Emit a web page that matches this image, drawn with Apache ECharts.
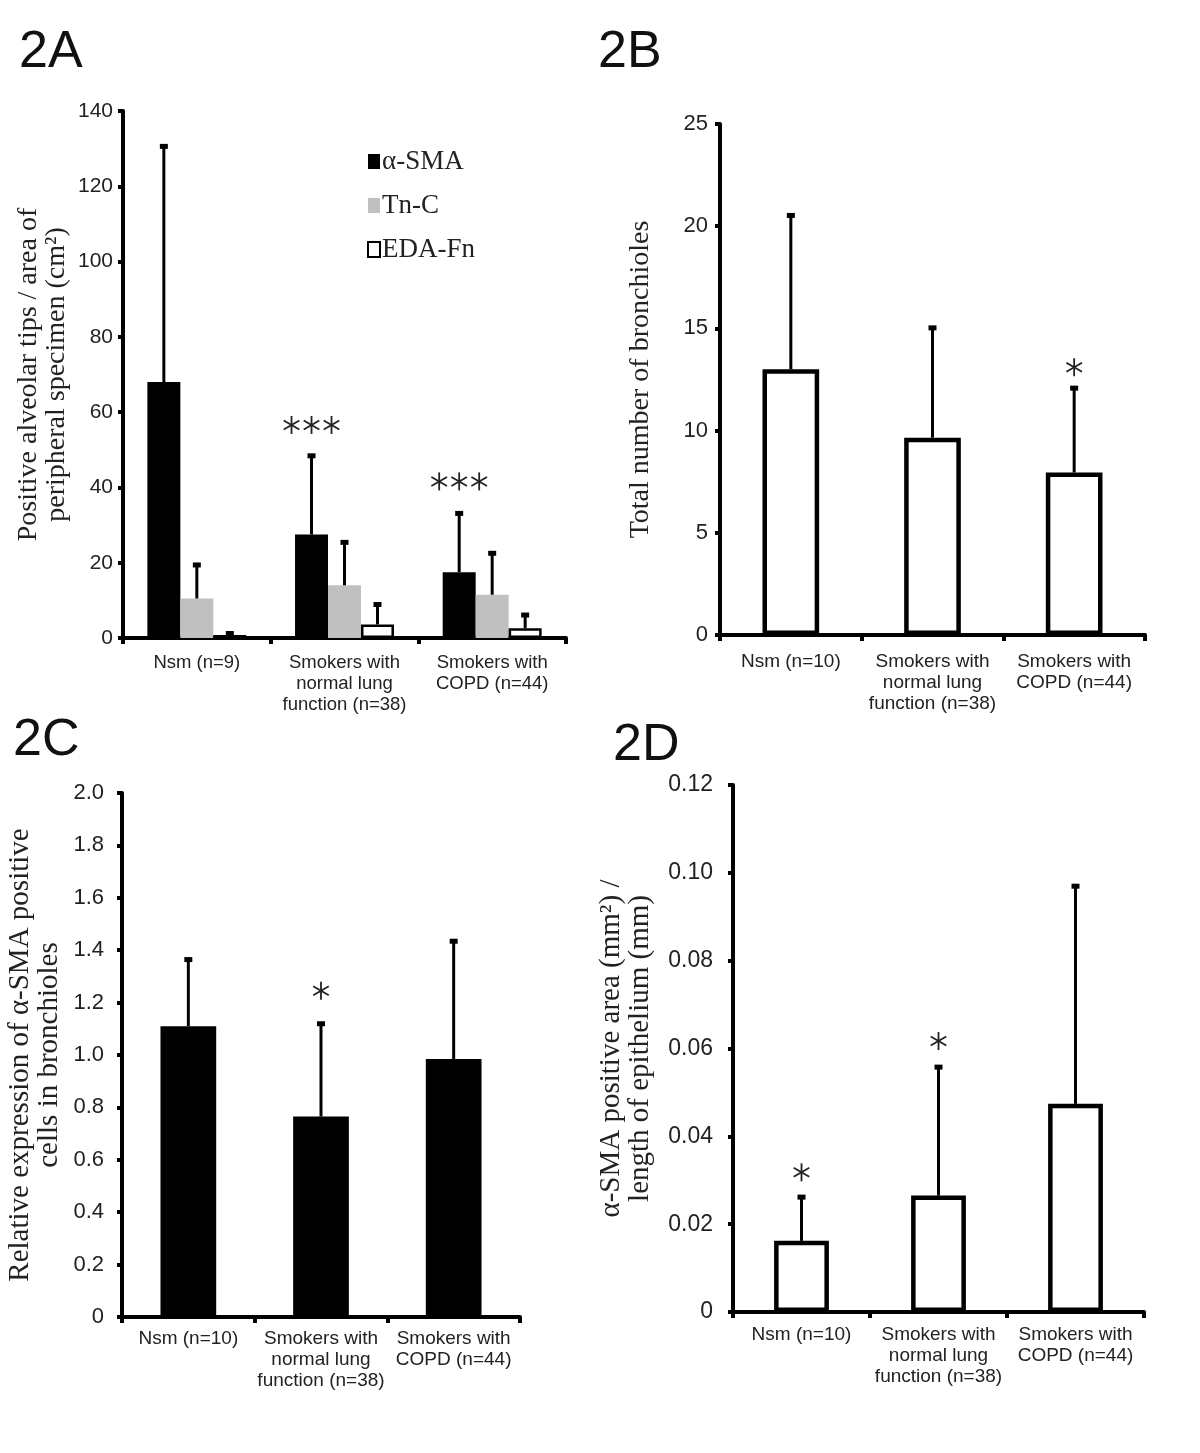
<!DOCTYPE html>
<html>
<head>
<meta charset="utf-8">
<title>Figure 2</title>
<script src="https://cdn.jsdelivr.net/npm/echarts@6.0.0/dist/echarts.min.js"></script>
<style>
  body{margin:0;background:#fff;}
  #fig{width:1200px;height:1453px;}
</style>
</head>
<body>
<div id="fig"></div>
<script>
// categories
const catsA = ['Nsm (n=9)', 'Smokers with\nnormal lung\nfunction (n=38)', 'Smokers with\nCOPD (n=44)'];
const catsBCD = ['Nsm (n=10)', 'Smokers with\nnormal lung\nfunction (n=38)', 'Smokers with\nCOPD (n=44)'];

// 2A  positive alveolar tips
const smaA = [68, 27.5, 17.5];
const smaSdA = [63, 21.3, 16];
const tncA = [10.5, 14, 11.5];
const tncSdA = [9.3, 11.8, 11.4];
const edaA = [0.8, 3.6, 2.6];
const edaSdA = [0.8, 5.7, 3.9];
const starPosA = [null, 56.6, 41.6];
const starCntA = [0, 3, 3];

// 2B  total number of bronchioles
const numB = [13.0, 9.65, 7.95];
const sdB = [7.6, 5.45, 4.2];
const starPosB = [null, null, 13.1];

// 2C  relative expression of a-SMA
const relC = [1.11, 0.765, 0.985];
const sdC = [0.26, 0.36, 0.455];
const starPosC = [null, 1.245, null];

// 2D  a-SMA positive area / length of epithelium
const areaD = [0.0162, 0.0265, 0.0474];
const sdD = [0.0103, 0.0296, 0.0499];
const starPosD = [0.0318, 0.0617, null];

// tick settings
const yMaxA = 140, yStepA = 20;
const yMaxB = 25, yStepB = 5;
const yMaxC = 2.0, yStepC = 0.2;
const yMaxD = 0.12, yStepD = 0.02;

const sans = 'Liberation Sans, Arial, sans-serif';
const serif = 'Liberation Serif, Times New Roman, serif';

function errData(vals, sds){
  return vals.map((v,i)=>[i, v, sds[i]]);
}

// error bar (upper only) with small cap, offset inside the category band
function errBar(offset){
  return function(params, api){
    let ci = api.value(0), v = api.value(1), sd = api.value(2);
    let band = api.size([1, 0])[0];
    let x = api.coord([ci, 0])[0] + offset*band;
    let y0 = api.coord([ci, v])[1];
    let y1 = api.coord([ci, v+sd])[1];
    return {
      type:'group',
      children:[
        {type:'line', shape:{x1:x, y1:y0, x2:x, y2:y1}, style:{stroke:'#000', lineWidth:3}},
        {type:'rect', shape:{x:x-4, y:y1-1, width:8, height:5}, style:{fill:'#000'}}
      ]
    };
  };
}
// six-armed asterisks, 20px apart
function starMark(offset){
  return function(params, api){
    let ci = api.value(0), p = api.value(1), n = api.value(2);
    let band = api.size([1, 0])[0];
    let pt = api.coord([ci, p]);
    let r = 9, kids = [];
    for(let k=0;k<n;k++){
      let cx = pt[0] + offset*band + (k-(n-1)/2)*20, cy = pt[1];
      [90, 30, 150].forEach(a=>{
        let dx = r*Math.cos(a*Math.PI/180), dy = r*Math.sin(a*Math.PI/180);
        kids.push({type:'line', shape:{x1:cx-dx, y1:cy-dy, x2:cx+dx, y2:cy+dy},
                   style:{stroke:'#222', lineWidth:1.8}});
      });
    }
    return {type:'group', children:kids};
  };
}

function xAxisOf(grid, cats, fs, margin){
  return {
    type:'category', gridIndex:grid, data:cats,
    axisLine:{lineStyle:{color:'#000', width:4}},
    axisTick:{show:true, length:6, lineStyle:{color:'#000', width:4}},
    axisLabel:{color:'#222', fontFamily:sans, fontSize:fs, lineHeight:21, margin:margin, interval:0}
  };
}
function yAxisOf(grid, max, step, fmt, lfs, lmargin, name, gap, nfs){
  return {
    type:'value', gridIndex:grid, min:0, max:max, interval:step,
    name:name, nameLocation:'middle', nameGap:gap,
    nameTextStyle:{color:'#222', fontFamily:serif, fontSize:nfs, lineHeight:nfs},
    axisLine:{show:true, lineStyle:{color:'#000', width:4}},
    axisTick:{show:true, length:5, lineStyle:{color:'#000', width:4}},
    axisLabel:{color:'#222', fontFamily:sans, fontSize:lfs, margin:lmargin, formatter:fmt},
    splitLine:{show:false}
  };
}

// band offsets of the three grouped bars in 2A (barCategoryGap 33%, barGap 0)
const groupW = 0.67, oneW = groupW/3;
const offA = [-groupW/2 + oneW*0.5, 0, groupW/2 - oneW*0.5];

let series = [
  {name:'α-SMA', type:'bar', xAxisIndex:0, yAxisIndex:0, data:smaA, barGap:'0%', barCategoryGap:'33%',
   itemStyle:{color:'#000'}},
  {name:'Tn-C', type:'bar', xAxisIndex:0, yAxisIndex:0, data:tncA, barGap:'0%', barCategoryGap:'33%',
   itemStyle:{color:'#c0c0c0'}},
  {name:'EDA-Fn', type:'bar', xAxisIndex:0, yAxisIndex:0, data:edaA, barGap:'0%', barCategoryGap:'33%',
   itemStyle:{color:'#fff', borderColor:'#000', borderWidth:2.5}},
  {type:'custom', xAxisIndex:0, yAxisIndex:0, renderItem:errBar(offA[0]), data:errData(smaA, smaSdA), z:3},
  {type:'custom', xAxisIndex:0, yAxisIndex:0, renderItem:errBar(offA[1]), data:errData(tncA, tncSdA), z:3},
  {type:'custom', xAxisIndex:0, yAxisIndex:0, renderItem:errBar(offA[2]), data:errData(edaA, edaSdA), z:3},

  {name:'B', type:'bar', xAxisIndex:1, yAxisIndex:1, data:numB, barWidth:'40%',
   itemStyle:{color:'#fff', borderColor:'#000', borderWidth:4.5}},
  {type:'custom', xAxisIndex:1, yAxisIndex:1, renderItem:errBar(0), data:errData(numB, sdB), z:3},

  {name:'C', type:'bar', xAxisIndex:2, yAxisIndex:2, data:relC, barWidth:'42%',
   itemStyle:{color:'#000'}},
  {type:'custom', xAxisIndex:2, yAxisIndex:2, renderItem:errBar(0), data:errData(relC, sdC), z:3},

  {name:'D', type:'bar', xAxisIndex:3, yAxisIndex:3, data:areaD, barWidth:'40%',
   itemStyle:{color:'#fff', borderColor:'#000', borderWidth:4.5}},
  {type:'custom', xAxisIndex:3, yAxisIndex:3, renderItem:errBar(0), data:errData(areaD, sdD), z:3}
];

// significance marks
function addStars(axis, pos, cnt, offset){
  let data = [];
  pos.forEach((p,i)=>{ if(p!=null) data.push([i, p, cnt ? cnt[i] : 1]); });
  series.push({type:'custom', xAxisIndex:axis, yAxisIndex:axis, renderItem:starMark(offset), data:data, z:4});
}
addStars(0, starPosA, starCntA, offA[0]);
addStars(1, starPosB, null, 0);
addStars(2, starPosC, null, 0);
addStars(3, starPosD, null, 0);

const titleStyle = {fontFamily:sans, fontSize:52, fontWeight:'normal', color:'#111'};

let option = {
  backgroundColor:'#fff',
  animation:false,
  title:[
    {text:'2A', left:14, top:22, textStyle:titleStyle},
    {text:'2B', left:593, top:22, textStyle:titleStyle},
    {text:'2C', left:8, top:710, textStyle:titleStyle},
    {text:'2D', left:608, top:715, textStyle:titleStyle}
  ],
  legend:{
    orient:'vertical', left:362, top:143,
    icon:'rect', itemWidth:12, itemHeight:15, itemGap:17,
    data:['α-SMA', 'Tn-C', 'EDA-Fn'],
    textStyle:{fontFamily:serif, fontSize:27, color:'#222', padding:[0,0,0,-3]}
  },
  grid:[
    {left:123, top:111, width:443, height:527},
    {left:720, top:124, width:425, height:511},
    {left:122, top:793, width:398, height:524},
    {left:733, top:785, width:411, height:527}
  ],
  xAxis:[
    xAxisOf(0, catsA, 18.5, 14),
    xAxisOf(1, catsBCD, 19, 16),
    xAxisOf(2, catsBCD, 19, 11),
    xAxisOf(3, catsBCD, 19, 12)
  ],
  yAxis:[
    yAxisOf(0, yMaxA, yStepA, v=>String(v), 21, 10, 'Positive alveolar tips / area of\nperipheral specimen (cm²)', 52, 28),
    yAxisOf(1, yMaxB, yStepB, v=>String(v), 22, 12, 'Total number of bronchioles', 65, 28),
    yAxisOf(2, yMaxC, yStepC, v=>v===0?'0':v.toFixed(1), 22, 18, 'Relative expression of α-SMA positive\ncells in bronchioles', 58, 29),
    yAxisOf(3, yMaxD, yStepD, v=>v===0?'0':v.toFixed(2), 23, 20, 'α-SMA positive area (mm²) /\nlength of epithelium (mm)', 78, 29)
  ],
  series:series
};

let myChart = echarts.init(document.getElementById('fig'));
myChart.setOption(option);
</script>
</body>
</html>
